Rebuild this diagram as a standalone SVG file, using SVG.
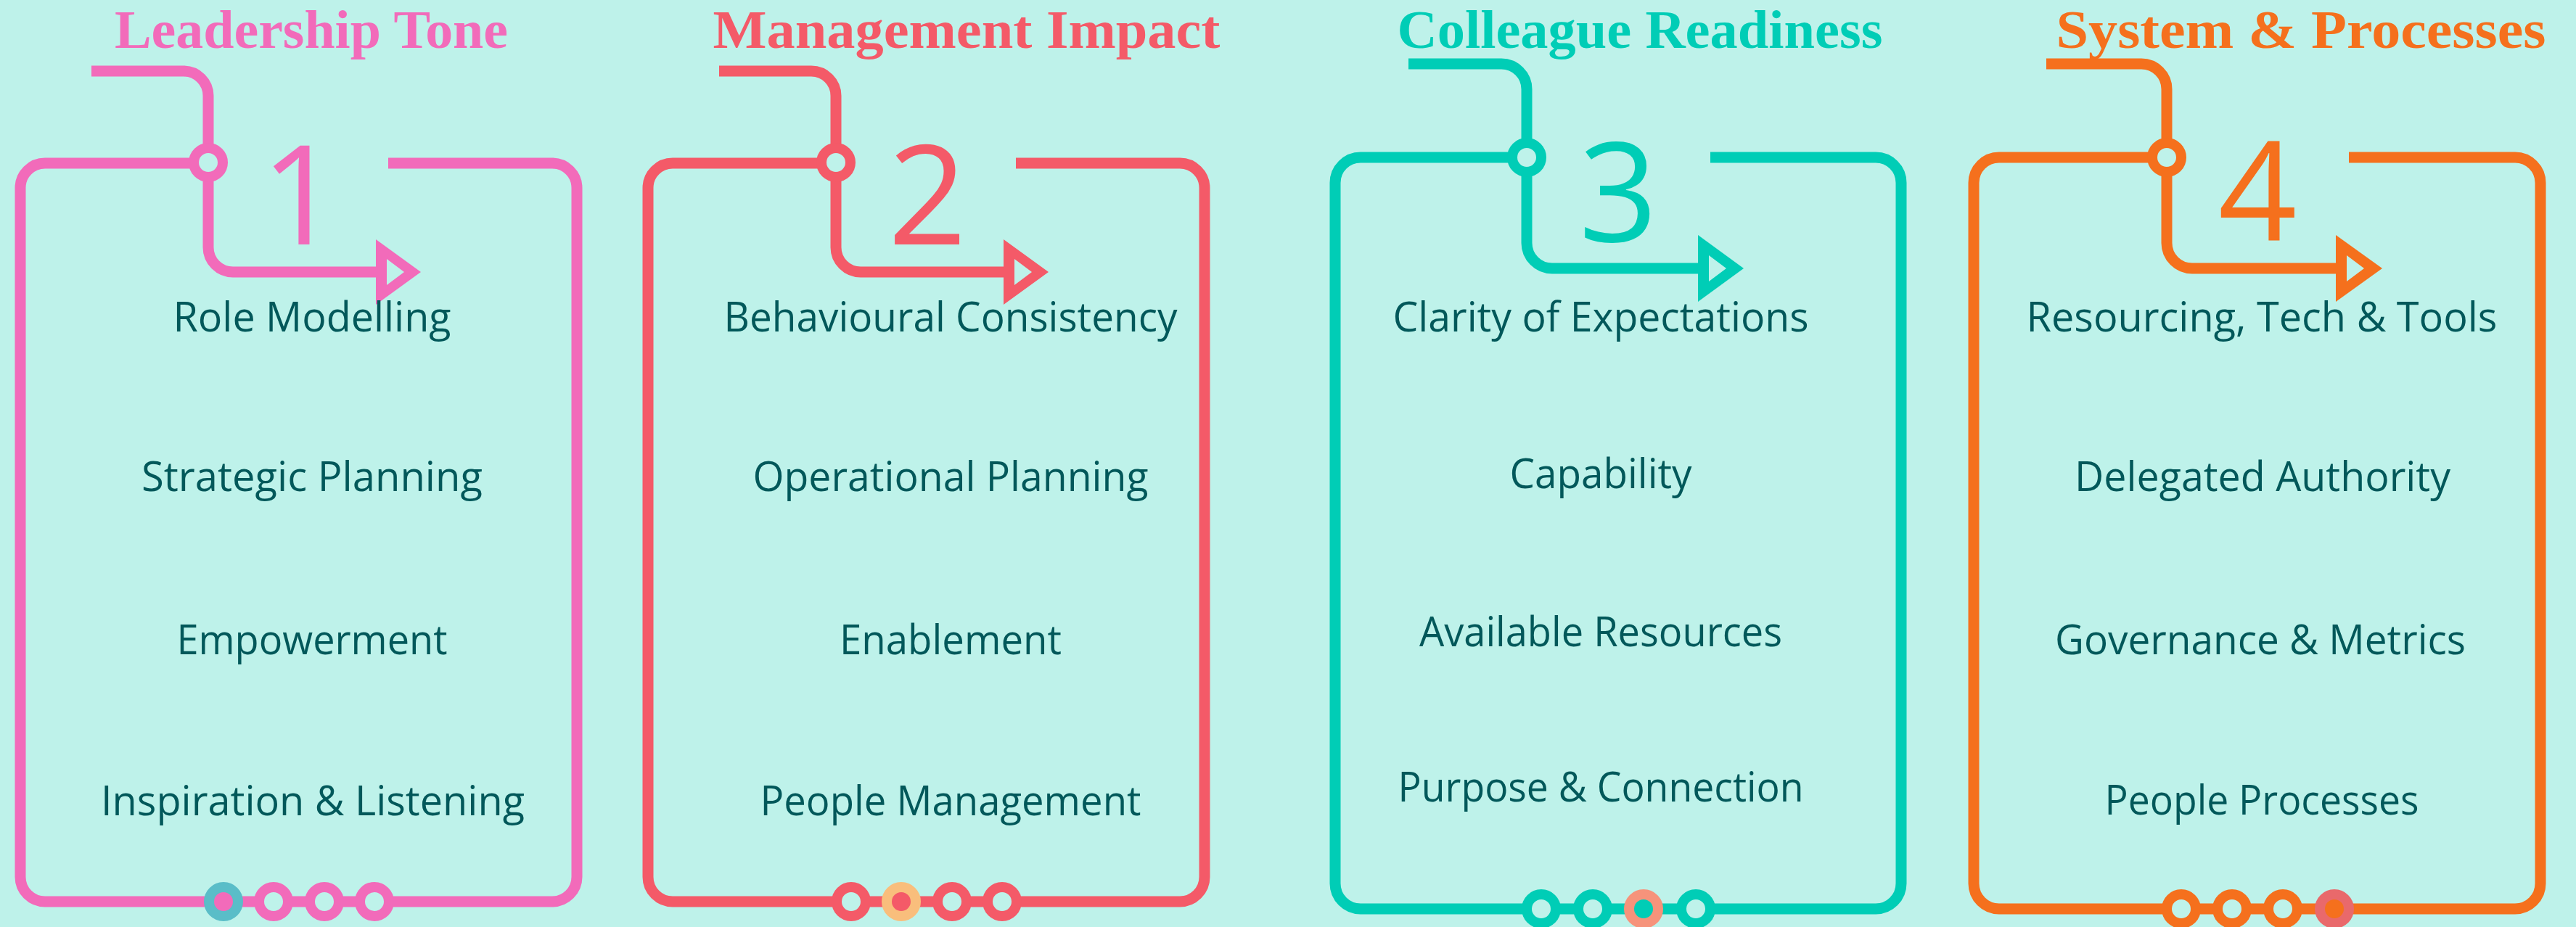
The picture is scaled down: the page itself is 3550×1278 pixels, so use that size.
<svg xmlns="http://www.w3.org/2000/svg" width="3550" height="1278" viewBox="0 0 3550 1278">
<style>
.ln{fill:none;stroke-width:15;stroke-linecap:butt;stroke-linejoin:round}
.ring{stroke-width:14}
.item{font-family:"Open Sans","Noto Sans","Liberation Sans",sans-serif;font-size:56px;fill:#02585A;text-anchor:middle}
.title{font-family:"Liberation Serif","DejaVu Serif",serif;font-weight:bold;font-size:73px;text-anchor:middle}
.digit{font-family:"Open Sans","Noto Sans",sans-serif;font-weight:400;font-size:190px;text-anchor:middle}
.pink{stroke:#F26BBA}.red{stroke:#F45A68}.teal{stroke:#00CDB6}.orange{stroke:#F5701D}
</style>
<rect x="0" y="0" width="3550" height="1278" fill="#BEF2EA"/>

<g id="connectors">
<path class="ln pink" d="M126 98 H253 A34 34 0 0 1 287 132 V341 A34 34 0 0 0 321 375 H520"/>
<path class="ln red" d="M991 98 H1118 A34 34 0 0 1 1152 132 V341 A34 34 0 0 0 1186 375 H1385"/>
<path class="ln teal" d="M1941 88 H2069 A35 35 0 0 1 2104 123 V335 A35 35 0 0 0 2139 370 H2342"/>
<path class="ln orange" d="M2820 88 H2951 A35 35 0 0 1 2986 123 V335 A35 35 0 0 0 3021 370 H3221"/>
</g>

<g id="node1">
<text class="title" x="429" y="66" fill="#F26BBA" textLength="542" lengthAdjust="spacingAndGlyphs">Leadership Tone</text>
<path class="ln pink" d="M535 225 H761 A34 34 0 0 1 795 259 V1209 A34 34 0 0 1 761 1243 H62 A34 34 0 0 1 28 1209 V259 A34 34 0 0 1 62 225 H287"/>
<path fill="#F26BBA" fill-rule="evenodd" d="M518 330 L580 375 L518 420 Z M533 357 L557 375 L533 393 Z"/>
<circle class="ring pink" cx="287" cy="224" r="20" fill="#BEF2EA"/>
<text class="digit" x="414" y="337" fill="#F26BBA">1</text>
<circle class="ring" cx="308" cy="1243" r="20" fill="#F26BBA" stroke="#5ABDC8"/>
<circle class="ring pink" cx="377" cy="1243" r="20" fill="#BEF2EA"/>
<circle class="ring pink" cx="447" cy="1243" r="20" fill="#BEF2EA"/>
<circle class="ring pink" cx="516" cy="1243" r="20" fill="#BEF2EA"/>
<text class="item" x="430" y="457" textLength="383" lengthAdjust="spacingAndGlyphs">Role Modelling</text>
<text class="item" x="430" y="677" textLength="470" lengthAdjust="spacingAndGlyphs">Strategic Planning</text>
<text class="item" x="430" y="902" textLength="373" lengthAdjust="spacingAndGlyphs">Empowerment</text>
<text class="item" x="431" y="1124" textLength="584" lengthAdjust="spacingAndGlyphs">Inspiration &amp; Listening</text>
</g>

<g id="node2">
<text class="title" x="1332" y="66" fill="#F45A68" textLength="699" lengthAdjust="spacingAndGlyphs">Management Impact</text>
<path class="ln red" d="M1400 225 H1626 A34 34 0 0 1 1660 259 V1209 A34 34 0 0 1 1626 1243 H927 A34 34 0 0 1 893 1209 V259 A34 34 0 0 1 927 225 H1152"/>
<path fill="#F45A68" fill-rule="evenodd" d="M1383 330 L1445 375 L1383 420 Z M1398 357 L1422 375 L1398 393 Z"/>
<circle class="ring red" cx="1152" cy="224" r="20" fill="#BEF2EA"/>
<text class="digit" x="1278" y="337" fill="#F45A68">2</text>
<circle class="ring red" cx="1173" cy="1243" r="20" fill="#BEF2EA"/>
<circle class="ring" cx="1242" cy="1243" r="20" fill="#F45A68" stroke="#F9BE7C"/>
<circle class="ring red" cx="1312" cy="1243" r="20" fill="#BEF2EA"/>
<circle class="ring red" cx="1381" cy="1243" r="20" fill="#BEF2EA"/>
<text class="item" x="1310" y="457" textLength="625" lengthAdjust="spacingAndGlyphs">Behavioural Consistency</text>
<text class="item" x="1310" y="677" textLength="545" lengthAdjust="spacingAndGlyphs">Operational Planning</text>
<text class="item" x="1310" y="902" textLength="306" lengthAdjust="spacingAndGlyphs">Enablement</text>
<text class="item" x="1310" y="1124" textLength="525" lengthAdjust="spacingAndGlyphs">People Management</text>
</g>

<g id="node3">
<text class="title" x="2260" y="66" fill="#00CDB6" textLength="669" lengthAdjust="spacingAndGlyphs">Colleague Readiness</text>
<path class="ln teal" d="M2357 217 H2585 A35 35 0 0 1 2620 252 V1218 A35 35 0 0 1 2585 1253 H1875 A35 35 0 0 1 1840 1218 V252 A35 35 0 0 1 1875 217 H2104"/>
<path fill="#00CDB6" fill-rule="evenodd" d="M2340 324 L2403 370 L2340 416 Z M2355 352 L2379 370 L2355 388 Z"/>
<circle class="ring teal" cx="2104" cy="217" r="20" fill="#BEF2EA"/>
<text class="digit" x="2230" y="333" fill="#00CDB6">3</text>
<circle class="ring teal" cx="2124" cy="1253" r="20" fill="#BEF2EA"/>
<circle class="ring teal" cx="2195" cy="1253" r="20" fill="#BEF2EA"/>
<circle class="ring" cx="2265" cy="1253" r="20" fill="#00CDB6" stroke="#F6937B"/>
<circle class="ring teal" cx="2337" cy="1253" r="20" fill="#BEF2EA"/>
<text class="item" x="2206" y="457" textLength="573" lengthAdjust="spacingAndGlyphs">Clarity of Expectations</text>
<text class="item" x="2206" y="673" textLength="251" lengthAdjust="spacingAndGlyphs">Capability</text>
<text class="item" x="2206" y="891" textLength="500" lengthAdjust="spacingAndGlyphs">Available Resources</text>
<text class="item" x="2206" y="1105" textLength="559" lengthAdjust="spacingAndGlyphs">Purpose &amp; Connection</text>
</g>

<g id="node4">
<text class="title" x="3171" y="66" fill="#F5701D" textLength="675" lengthAdjust="spacingAndGlyphs">System &amp; Processes</text>
<path class="ln orange" d="M3237 217 H3466 A35 35 0 0 1 3501 252 V1218 A35 35 0 0 1 3466 1253 H2755 A35 35 0 0 1 2720 1218 V252 A35 35 0 0 1 2755 217 H2986"/>
<path fill="#F5701D" fill-rule="evenodd" d="M3219 324 L3283 370 L3219 416 Z M3234 352 L3258 370 L3234 388 Z"/>
<circle class="ring orange" cx="2986" cy="217" r="20" fill="#BEF2EA"/>
<text class="digit" x="3111" y="332" fill="#F5701D">4</text>
<circle class="ring orange" cx="3006" cy="1253" r="20" fill="#BEF2EA"/>
<circle class="ring orange" cx="3076" cy="1253" r="20" fill="#BEF2EA"/>
<circle class="ring orange" cx="3146" cy="1253" r="20" fill="#BEF2EA"/>
<circle class="ring" cx="3217" cy="1253" r="20" fill="#F5701D" stroke="#E9696B"/>
<text class="item" x="3117" y="457" textLength="649" lengthAdjust="spacingAndGlyphs">Resourcing, Tech &amp; Tools</text>
<text class="item" x="3118" y="677" textLength="518" lengthAdjust="spacingAndGlyphs">Delegated Authority</text>
<text class="item" x="3115" y="902" textLength="566" lengthAdjust="spacingAndGlyphs">Governance &amp; Metrics</text>
<text class="item" x="3117" y="1123" textLength="433" lengthAdjust="spacingAndGlyphs">People Processes</text>
</g>
</svg>
